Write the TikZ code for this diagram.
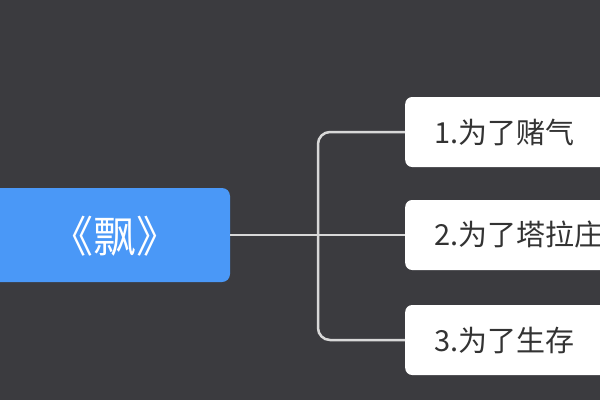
\documentclass[tikz,border=0pt]{standalone}
\usepackage{fontspec}
\newfontfamily\cjk{Noto Sans CJK SC}
\definecolor{bg}{HTML}{3B3B3F}
\definecolor{blu}{HTML}{4A98F7}
\definecolor{ln}{HTML}{D8D8D8}
\begin{document}
\begin{tikzpicture}[x=1pt,y=-1pt,
  leaf/.style={fill=white,rounded corners=7pt,minimum width=230pt,minimum height=70pt,anchor=west,inner sep=0pt},
  lbl/.style={anchor=west,font=\cjk\fontsize{29}{32}\selectfont,text=black!80,inner sep=0pt},
  conn/.style={draw=ln,line width=2.5pt,rounded corners=12pt}]
\useasboundingbox (0,0) rectangle (600,400);
\clip (0,0) rectangle (600,400);
\fill[bg] (0,0) rectangle (600,400);
\node[fill=blu,rounded corners=8pt,minimum width=260pt,minimum height=94pt,inner sep=0pt] (root) at (100,235) {};
\node[text=white,font=\cjk\fontsize{43}{46}\selectfont] (rt) at (115,236) {《飘》};
\node[leaf] (a) at (405,132) {};
\node[leaf] (b) at (405,235) {};
\node[leaf] (c) at (405,340) {};
\node[lbl] (at) at (434,132) {1.为了赌气};
\node[lbl] (bt) at (434,235) {2.为了塔拉庄};
\node[lbl] (ct) at (434,340) {3.为了生存};
\draw[conn] (root.east) -- (b.west);
\draw[conn] (a.west) -- (318,132) -- (318,340) -- (c.west);
\end{tikzpicture}
\end{document}
